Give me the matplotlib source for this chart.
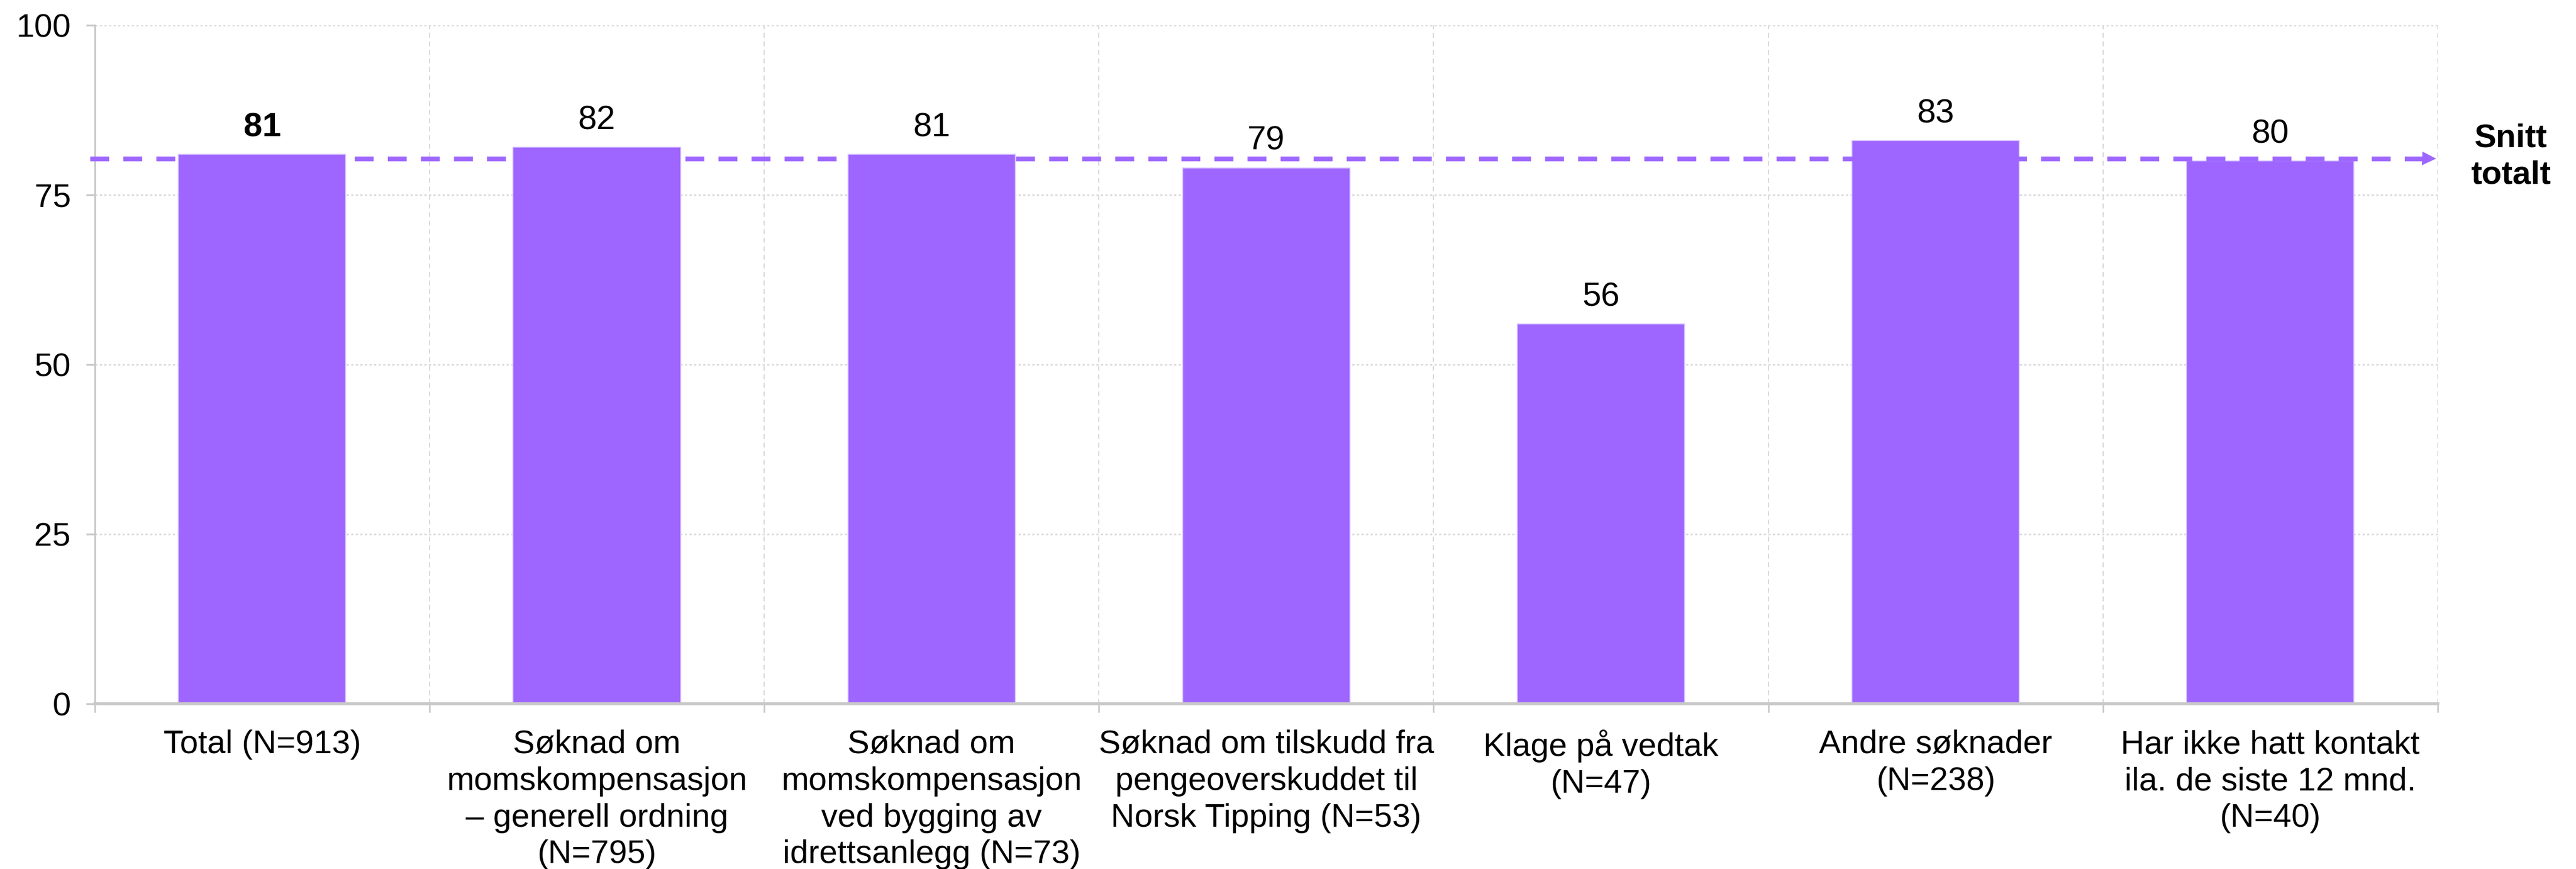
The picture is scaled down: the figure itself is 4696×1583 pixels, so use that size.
import matplotlib
matplotlib.use("Agg")
import matplotlib.pyplot as plt
import numpy as np

plt.rcParams['font.family'] = ['Liberation Sans', 'DejaVu Sans']

# Satisfaction score per kind of contact
categories = [
    "Total (N=913)",
    "Søknad om\nmomskompensasjon\n– generell ordning\n(N=795)",
    "Søknad om\nmomskompensasjon\nved bygging av\nidrettsanlegg (N=73)",
    "Søknad om tilskudd fra\npengeoverskuddet til\nNorsk Tipping (N=53)",
    "Klage på vedtak\n(N=47)",
    "Andre søknader\n(N=238)",
    "Har ikke hatt kontakt\nila. de siste 12 mnd.\n(N=40)",
]
scores = [81, 82, 81, 79, 56, 83, 80]
overall_average = 80.3
avg_label = "Snitt\ntotalt"
y_ticks = [0, 25, 50, 75, 100]

BAR = "#9E66FF"
GRID = "#d9d9d9"
AXIS = "#c8c8c8"
FS = 21.5

fig = plt.figure(figsize=(23.48, 7.915), dpi=200)
ax = fig.add_axes([0.0368, 0.190, 0.9095, 0.781])

x = np.arange(len(categories))
ax.bar(x, scores, width=0.5, color=BAR, edgecolor="#d9c8ff", linewidth=0.6, zorder=3)

for i, v in enumerate(scores):
    ax.text(i, v + 1.6, f"{v}", ha="center", va="bottom", fontsize=FS * 1.03,
            fontweight="bold" if i == 0 else "normal", zorder=5)

ax.set_xlim(-0.5, len(categories) - 0.5)
ax.set_ylim(0, 100)

# horizontal dotted grid
ax.set_yticks(y_ticks)
ax.set_yticklabels([str(t) for t in y_ticks], fontsize=FS)
ax.yaxis.grid(True, linestyle=(0, (1.5, 1.5)), color=GRID, linewidth=1.0, zorder=0)

# category boundaries: dashed verticals and ticks below the axis
bounds = np.arange(len(categories) + 1) - 0.5
for b in bounds[1:]:
    ax.axvline(b, color=GRID, linestyle=(0, (4, 3)), linewidth=0.8, zorder=0)
ax.set_xticks(x)
ax.set_xticklabels(categories, fontsize=FS, linespacing=1.27)
ax.set_xticks(bounds, minor=True)
ax.tick_params(axis="x", which="major", length=0, pad=17)
ax.tick_params(axis="x", which="minor", length=5.8, color=AXIS, width=1.0)
ax.tick_params(axis="y", length=5.8, color=AXIS, width=1.2, pad=10)

for s in ["top", "right"]:
    ax.spines[s].set_visible(False)
ax.spines["left"].set_color(AXIS)
ax.spines["left"].set_linewidth(1.2)
ax.spines["bottom"].set_color(AXIS)
ax.spines["bottom"].set_linewidth(2.0)
ax.spines["bottom"].set_zorder(4)

# overall average: dashed line ending in an arrowhead
ax.plot([-0.515, 6.47], [overall_average, overall_average], color=BAR,
        linewidth=3.1, linestyle=(0, (4, 3)), zorder=4, clip_on=False,
        solid_capstyle="butt", dash_capstyle="butt")
ax.plot([6.474], [overall_average], marker=">", markersize=9, color=BAR,
        markeredgewidth=0, zorder=4, clip_on=False)
ax.text(6.718, overall_average + 0.3, avg_label, ha="center", va="center",
        fontsize=FS, fontweight="bold", linespacing=1.27)

fig.savefig("out.png", dpi=200, facecolor="white")
